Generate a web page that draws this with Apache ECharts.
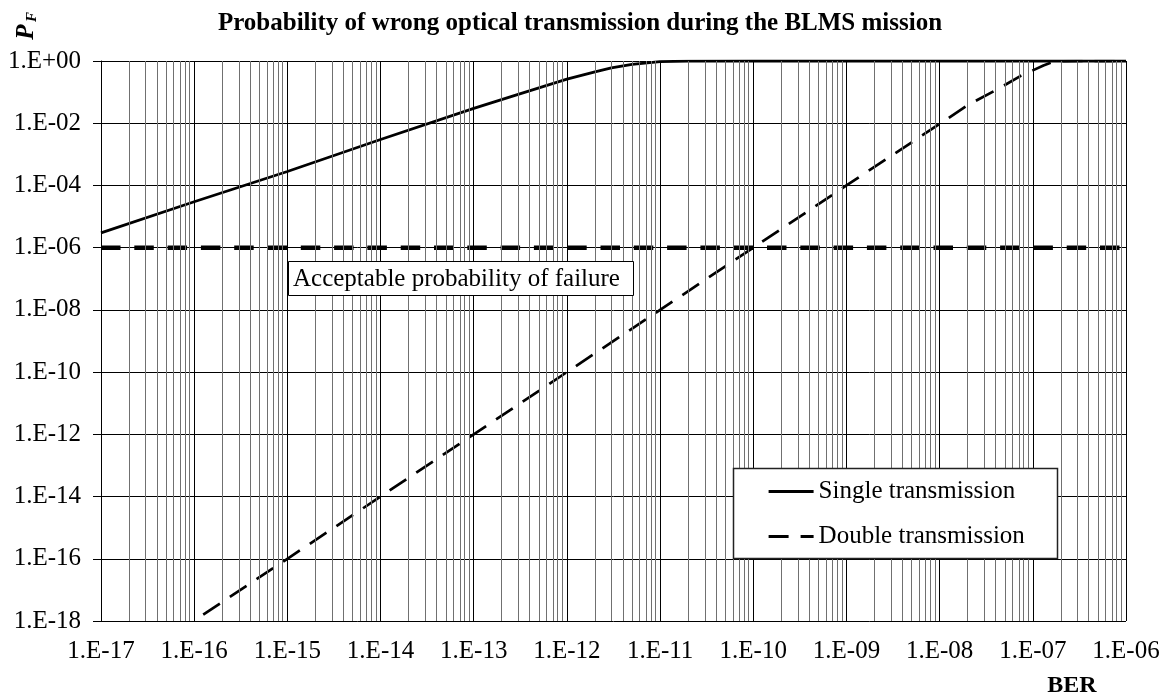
<!DOCTYPE html>
<html>
<head>
<meta charset="utf-8">
<title>Probability of wrong optical transmission during the BLMS mission</title>
<script src="https://cdn.jsdelivr.net/npm/echarts@6/dist/echarts.min.js"></script>
<style>
  html, body { margin: 0; padding: 0; background: #fff; }
  #chart { width: 1168px; height: 698px; }
</style>
</head>
<body>
<div id="chart"></div>
<script>
// Bit error rate (BER) vs. probability of failure P_F
const berSingle = [1e-17, 1e-16, 1e-15, 1e-14, 1e-13, 3e-13, 1e-12, 2e-12, 3e-12, 5e-12, 1e-11, 2e-11, 1e-10, 1e-9, 1e-8, 1e-7, 1e-6];
const pSingle   = [3e-6, 3e-5, 2.8e-4, 3e-3, 3e-2, 0.085, 0.26, 0.45, 0.6, 0.78, 0.95, 0.998, 1, 1, 1, 1, 1];

const berDouble = [1.25e-16, 1e-15, 1e-14, 1e-13, 1e-12, 1e-11, 1e-10, 1e-9, 1e-8, 2e-8, 4.5e-8, 7.5e-8, 1e-7, 1.3e-7, 1.6e-7, 2e-7, 3e-7, 1e-6];
const pDouble   = [1.6e-18, 1e-16, 1e-14, 1e-12, 1e-10, 1e-8, 1e-6, 1e-4, 9.5e-3, 0.038, 0.14, 0.34, 0.5, 0.72, 0.9, 0.98, 1, 1];

const berAcceptable = [1e-17, 1e-6];
const pAcceptable   = [1e-6, 1e-6];

// Axis ranges as decade exponents
const xExpRange = [-17, -6];
const yExpRange = [-18, 0];
const yExpStep = 2;

const FONT = '"Liberation Serif", "Times New Roman", serif';

const toPoints = (xs, ys) => xs.map((x, i) => [Math.log10(x), Math.log10(ys[i])]);

// Minor decade gridlines at 2..9 × 10^d
const minorLines = [];
for (let d = xExpRange[0]; d < xExpRange[1]; d++) {
  for (let k = 2; k <= 9; k++) minorLines.push({ xAxis: d + Math.log10(k) });
}

const expLabel = v => {
  const e = Math.round(v);
  return '1.E' + (e < 0 ? '-' : '+') + String(Math.abs(e)).padStart(2, '0');
};

const chart = echarts.init(document.getElementById('chart'), null, { renderer: 'canvas' });

chart.setOption({
  animation: false,
  backgroundColor: '#fff',
  grid: { left: 101, right: 42, top: 61, bottom: 77, containLabel: false },
  xAxis: {
    type: 'value',
    min: xExpRange[0], max: xExpRange[1], interval: 1,
    axisLine: { lineStyle: { color: '#000', width: 1 } },
    axisTick: { show: true, length: 7, lineStyle: { color: '#000' } },
    axisLabel: { margin: 18, color: '#000', fontFamily: FONT, fontSize: 25, formatter: expLabel },
    splitLine: { show: true, lineStyle: { color: '#000', width: 1 } }
  },
  yAxis: {
    type: 'value',
    min: yExpRange[0], max: yExpRange[1], interval: yExpStep,
    axisLine: { show: true, lineStyle: { color: '#000', width: 1 } },
    axisTick: { show: true, length: 8, lineStyle: { color: '#000' } },
    axisLabel: { margin: 20, color: '#000', fontFamily: FONT, fontSize: 25, formatter: expLabel },
    splitLine: { show: true, lineStyle: { color: '#000', width: 1 } }
  },
  legend: {
    data: ['Single transmission', 'Double transmission'],
    orient: 'vertical',
    left: 767, top: 479,
    padding: 0,
    itemWidth: 45, itemHeight: 26, itemGap: 20,
    z: 8,
    itemStyle: { opacity: 0, borderWidth: 0 },
    lineStyle: { width: 3.2 },
    textStyle: { color: '#000', fontFamily: FONT, fontSize: 25 }
  },
  series: [
    {
      name: 'minor grid',
      type: 'line',
      data: [],
      z: 1,
      silent: true,
      markLine: {
        silent: true,
        symbol: ['none', 'none'],
        label: { show: false },
        lineStyle: { color: '#707070', width: 1, type: 'solid' },
        emphasis: { disabled: true },
        data: minorLines
      }
    },
    {
      name: 'Acceptable probability of failure',
      type: 'line',
      data: toPoints(berAcceptable, pAcceptable),
      showSymbol: false, symbol: 'none',
      z: 3,
      lineStyle: { color: '#000', width: 4.5, type: [19.5, 13.8], cap: 'butt' }
    },
    {
      name: 'Single transmission',
      type: 'line',
      data: toPoints(berSingle, pSingle),
      showSymbol: false, symbol: 'none',
      z: 4,
      lineStyle: { color: '#000', width: 2.8, type: 'solid' },
      itemStyle: { color: '#000' }
    },
    {
      name: 'Double transmission',
      type: 'line',
      data: toPoints(berDouble, pDouble),
      showSymbol: false, symbol: 'none',
      z: 4,
      lineStyle: { color: '#000', width: 2.7, type: [20, 12], cap: 'butt' },
      itemStyle: { color: '#000' }
    }
  ],
  graphic: [
    {
      type: 'text', x: 580, y: 24, z: 10,
      style: { text: 'Probability of wrong optical transmission during the BLMS mission',
        font: 'bold 25px ' + FONT, fill: '#000', align: 'center', verticalAlign: 'middle' }
    },
    {
      type: 'text', x: 27, y: 32, rotation: Math.PI / 2, z: 10,
      style: { text: 'P', font: 'italic bold 25px ' + FONT, fill: '#000', align: 'center', verticalAlign: 'middle' }
    },
    {
      type: 'text', x: 32, y: 17, rotation: Math.PI / 2, z: 10,
      style: { text: 'F', font: 'italic bold 15px ' + FONT, fill: '#000', align: 'center', verticalAlign: 'middle' }
    },
    {
      type: 'text', x: 1072, y: 686, z: 10,
      style: { text: 'BER', font: 'bold 24px ' + FONT, fill: '#000', align: 'center', verticalAlign: 'middle' }
    },
    {
      type: 'rect', z: 6, shape: { x: 288.5, y: 261.5, width: 345, height: 34 },
      style: { fill: '#fff', stroke: '#000', lineWidth: 1 }
    },
    {
      type: 'text', x: 293, y: 279, z: 7,
      style: { text: 'Acceptable probability of failure', font: '25px ' + FONT, fill: '#000', align: 'left', verticalAlign: 'middle' }
    },
    {
      type: 'rect', z: 6, shape: { x: 733.5, y: 468.5, width: 324, height: 90 },
      style: { fill: '#fff', stroke: '#222', lineWidth: 1.5 }
    }
  ]
});
</script>
</body>
</html>
